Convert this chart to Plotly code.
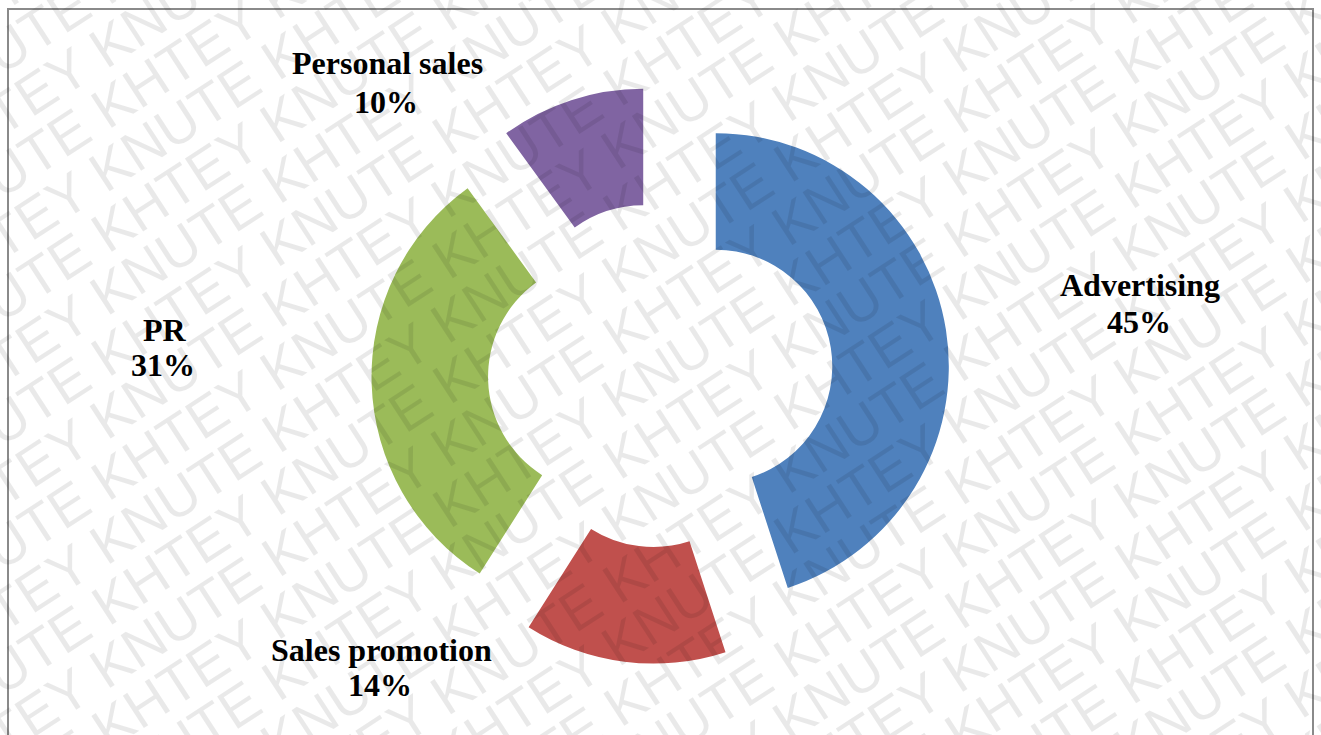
import math
import plotly.graph_objects as go

# Promotion-mix shares (%)
labels = ["Advertising", "Sales promotion", "PR", "Personal sales"]
values = [45, 14, 31, 10]
colors = ["#4F81BD", "#C0504D", "#9BBB59", "#8064A2"]

# Label anchor points (px) for name line and percentage line
label_xy = {
    "Advertising": ((1140, 285), (1139, 322)),
    "Sales promotion": ((381, 650), (380, 685)),
    "PR": ((165, 330), (163, 365)),
    "Personal sales": ((387, 63), (386, 102)),
}

W, H = 1321, 735
WM_WORDS = ["KNUTE", "KHTEY"]


def px(x, y):
    return x / W, 1 - y / H


fig = go.Figure()
fig.add_trace(go.Pie(
    labels=labels,
    values=values,
    hole=0.5,
    pull=0.24,
    sort=False,
    direction="clockwise",
    rotation=0,
    marker=dict(colors=colors, line=dict(width=0)),
    textinfo="none",
    hoverinfo="label+percent",
    domain=dict(x=[0.15, 0.85], y=[0.0966, 0.883]),
    showlegend=False,
))

annotations = []

# Diagonal background watermark
fs = 56
ang = 33.0
ca, sa = math.cos(math.radians(ang)), math.sin(math.radians(ang))
d = (ca, -sa)   # along the text
n = (sa, ca)    # across the rows
em_word1 = 0.667 + 0.722 + 0.722 + 0.611 + 0.667
em_word2 = 0.667 + 0.722 + 0.611 + 0.667 + 0.667
em_space = 0.278
period = (em_word1 + em_word2 + 2 * em_space) * fs
reps = 7
line = " ".join([" ".join(WM_WORDS)] * reps)
width_line = reps * period - em_space * fs
cx0, cy0 = W / 2, H / 2
row_gap = 52
for k in range(-16, 17):
    nk = 1 + row_gap * k
    # position of a "KHTEY" start along this row
    dk = -538 + (k + 4) * 170
    start = dk - (em_word1 + em_space) * fs
    c = start + width_line / 2
    c = (c + period / 2) % period - period / 2
    x = cx0 + nk * n[0] + c * d[0]
    y = cy0 + nk * n[1] + c * d[1]
    xp, yp = px(x, y)
    annotations.append(dict(
        x=xp, y=yp, xref="paper", yref="paper",
        text=line, showarrow=False, textangle=-ang,
        xanchor="center", yanchor="middle",
        font=dict(family="Liberation Sans", size=fs, color="rgba(0,0,0,0.085)"),
    ))

# Slice labels
for lab, val in zip(labels, values):
    (x1, y1), (x2, y2) = label_xy[lab]
    for (xx, yy), txt in (((x1, y1), lab), ((x2, y2), f"{val}%")):
        xp, yp = px(xx, yy)
        annotations.append(dict(
            x=xp, y=yp, xref="paper", yref="paper",
            text=f"<b>{txt}</b>", showarrow=False,
            xanchor="center", yanchor="middle",
            font=dict(family="Liberation Serif", size=32, color="black"),
        ))

fig.update_layout(
    width=W, height=H,
    margin=dict(l=0, r=0, t=0, b=0),
    paper_bgcolor="white",
    plot_bgcolor="white",
    annotations=annotations,
    shapes=[dict(
        type="rect", xref="paper", yref="paper",
        x0=8 / W, x1=1313 / W, y0=-0.02, y1=1 - 9 / H,
        line=dict(color="#8a8a8a", width=2),
        fillcolor="rgba(0,0,0,0)",
    )],
)

fig.write_html("out.html")
